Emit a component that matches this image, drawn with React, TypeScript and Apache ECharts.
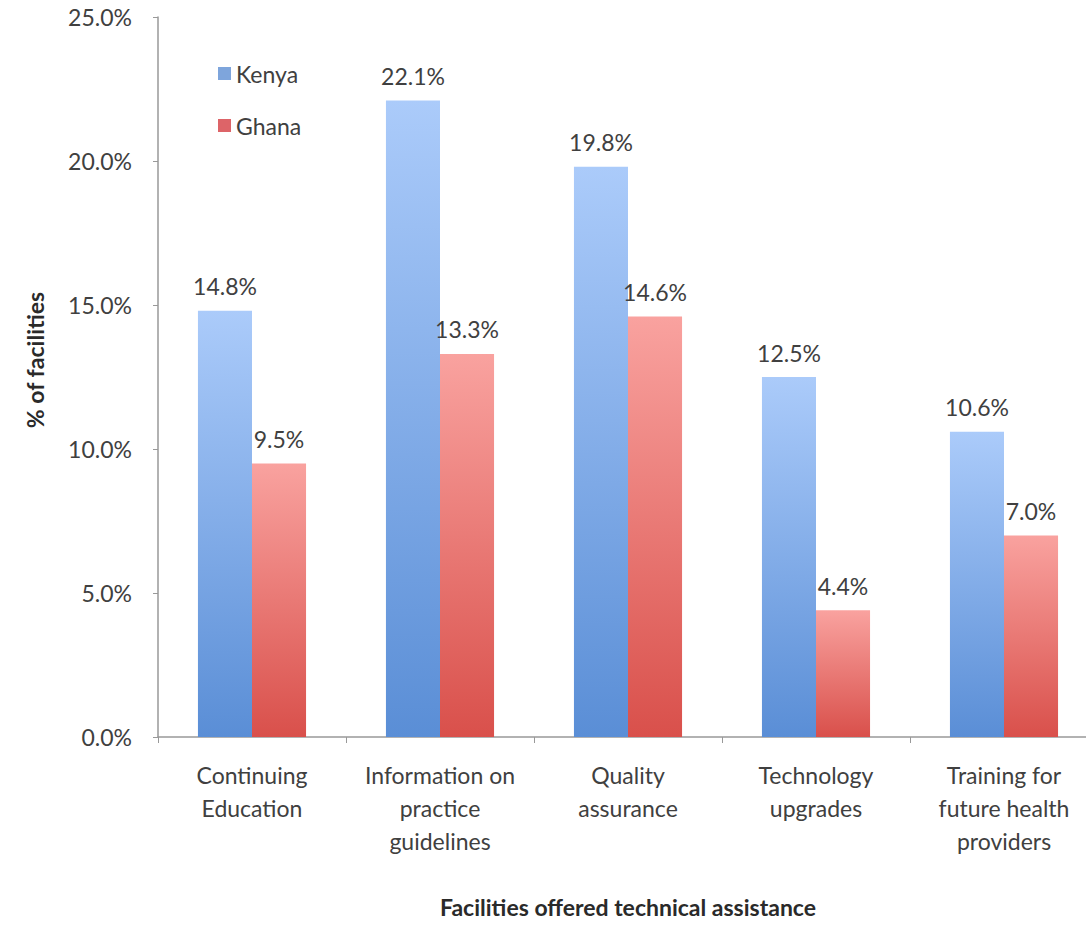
import React, { useEffect, useRef } from "react";
import * as echarts from "echarts";

const categories = [
  "Continuing\nEducation",
  "Information on\npractice\nguidelines",
  "Quality\nassurance",
  "Technology\nupgrades",
  "Training for\nfuture health\nproviders",
];
const kenya = [14.8, 22.1, 19.8, 12.5, 10.6];
const ghana = [9.5, 13.3, 14.6, 4.4, 7.0];
const yTicks = { min: 0, max: 25, interval: 5 };

const FONT = "Lato, 'Open Sans', sans-serif";

export default function App() {
  const ref = useRef<HTMLDivElement>(null);
  useEffect(() => {
    if (!ref.current) return;
    const chart = echarts.init(ref.current, null, { renderer: "svg" });
    const grad = (top: string, bottom: string) => ({
      type: "linear",
      x: 0,
      y: 0,
      x2: 0,
      y2: 1,
      colorStops: [
        { offset: 0, color: top },
        { offset: 1, color: bottom },
      ],
    });
    const labelCommon = {
      show: true,
      position: "top",
      distance: 13,
      fontFamily: FONT,
      fontSize: 23,
      color: "#404040",
      formatter: (p: any) => Number(p.value).toFixed(1) + "%",
    };
    chart.setOption({
      animation: false,
      backgroundColor: "#ffffff",
      textStyle: { fontFamily: FONT },
      grid: { left: 158, top: 17, width: 940, height: 720, containLabel: false },
      legend: {
        orient: "vertical",
        left: 213,
        top: 57,
        itemGap: 29,
        itemWidth: 13,
        itemHeight: 13,
        itemStyle: { borderWidth: 0 },
        icon: "rect",
        textStyle: { fontFamily: FONT, fontSize: 23, color: "#404040" },
        data: [
          { name: "Kenya", itemStyle: { color: "#7ea5dc" } },
          { name: "Ghana", itemStyle: { color: "#dd6468" } },
        ],
      },
      xAxis: {
        type: "category",
        data: categories,
        name: "Facilities offered technical assistance",
        nameLocation: "middle",
        nameGap: 158,
        nameTextStyle: { fontFamily: FONT, fontSize: 23, fontWeight: "bold", color: "#2a2a2a" },
        axisLine: { lineStyle: { color: "#999999", width: 1.5 } },
        axisTick: { show: true, length: 6, inside: false, lineStyle: { color: "#999999" } },
        axisLabel: {
          margin: 21,
          fontFamily: FONT,
          fontSize: 23,
          lineHeight: 33,
          color: "#404040",
          interval: 0,
        },
      },
      yAxis: {
        type: "value",
        min: yTicks.min,
        max: yTicks.max,
        interval: yTicks.interval,
        name: "% of facilities",
        nameLocation: "middle",
        nameGap: 112,
        nameTextStyle: { fontFamily: FONT, fontSize: 23, fontWeight: "bold", color: "#2a2a2a", padding: [0, 0, 0, 34] },
        axisLine: { show: true, lineStyle: { color: "#999999", width: 1.5 } },
        axisTick: { show: true, length: 5, lineStyle: { color: "#999999" } },
        splitLine: { show: false },
        axisLabel: {
          margin: 26,
          fontFamily: FONT,
          fontSize: 23,
          color: "#404040",
          formatter: (v: number) => v.toFixed(1) + "%",
        },
      },
      series: [
        {
          name: "Kenya",
          type: "bar",
          data: kenya,
          barGap: "0%",
          barCategoryGap: "42.5%",
          itemStyle: { color: grad("#abcbfa", "#5a8ed6") },
          label: labelCommon,
        },
        {
          name: "Ghana",
          type: "bar",
          data: ghana,
          barGap: "0%",
          barCategoryGap: "42.5%",
          itemStyle: { color: grad("#f9a29f", "#d9504b") },
          label: labelCommon,
        },
      ],
    });
    return () => chart.dispose();
  }, []);
  return (
    <div style={{ position: "absolute", left: 0, top: 0, width: 1086, height: 940, overflow: "hidden" }}>
      <div ref={ref} style={{ width: 1110, height: 940 }} />
    </div>
  );
}
